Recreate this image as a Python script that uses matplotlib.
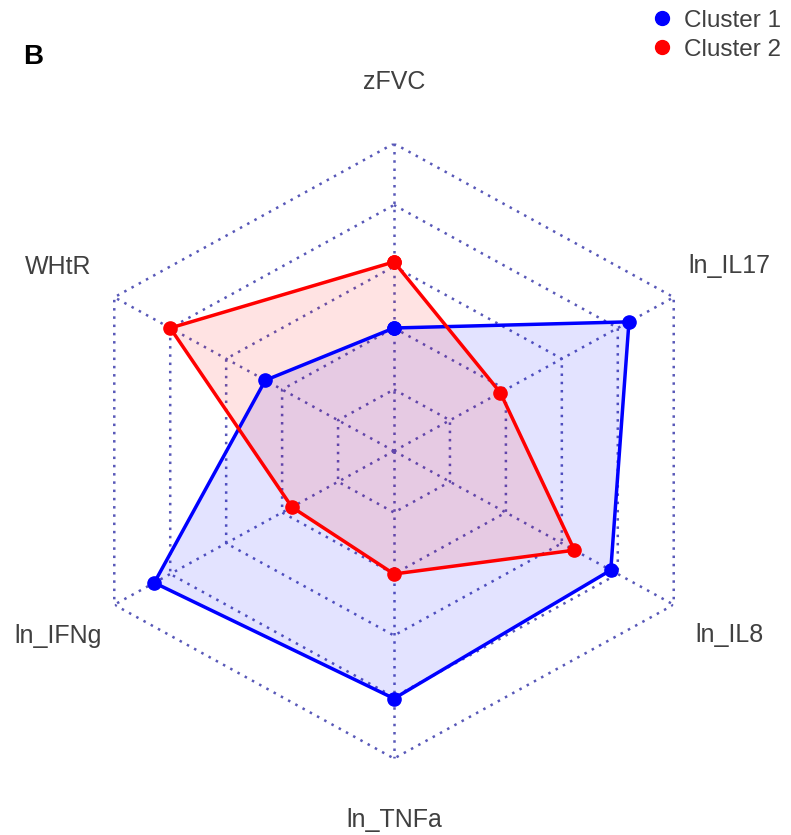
import numpy as np
import matplotlib
matplotlib.use("Agg")
import matplotlib.pyplot as plt
from matplotlib.lines import Line2D

plt.rcParams['font.family'] = ['Liberation Sans', 'DejaVu Sans']

categories = ["zFVC", "ln_IL17", "ln_IL8", "ln_TNFa", "ln_IFNg", "WHtR"]
cluster1 = [0.40, 0.84, 0.775, 0.805, 0.857, 0.46]
cluster2 = [0.615, 0.38, 0.645, 0.40, 0.365, 0.80]
series_names = ["Cluster 1", "Cluster 2"]
grid_levels = [0.2, 0.4, 0.6, 0.8, 1.0]

colors = ["#0000FF", "#FF0000"]
grid_color = "#5858B8"
text_color = "#404040"

W, H = 791, 835
fig = plt.figure(figsize=(W / 100, H / 100), dpi=100)
cx, cy = 394, 451
rx, ry = 323, 307.5
ax = fig.add_axes([(cx - rx) / W, (H - cy - ry) / H, 2 * rx / W, 2 * ry / H],
                  projection='polar')
ax.set_aspect('auto')
ax.set_theta_zero_location('N')
ax.set_theta_direction(-1)
ax.set_ylim(0, 1)
ax.grid(False)
ax.spines['polar'].set_visible(False)
ax.set_xticks([])
ax.set_yticks([])
ax.patch.set_alpha(0)

n = len(categories)
angles = np.arange(n) * 2 * np.pi / n
closed = np.append(angles, angles[0])

dash = (0, (1, 2.3))
for lv in grid_levels:
    ax.plot(closed, [lv] * (n + 1), color=grid_color, lw=1.8, linestyle=dash, zorder=1)
for a in angles:
    ax.plot([a, a], [0, 1], color=grid_color, lw=1.8, linestyle=dash, zorder=1)

for vals, c in zip([cluster1, cluster2], colors):
    v = np.append(vals, vals[0])
    ax.fill(closed, v, color=c, alpha=0.11, lw=0, zorder=2)
for vals, c in zip([cluster1, cluster2], colors):
    v = np.append(vals, vals[0])
    ax.plot(closed, v, color=c, lw=2.5, marker='o', ms=9.5, zorder=3, clip_on=False)

for a, lab in zip(angles, categories):
    ax.text(a, 1.2, lab, ha='center', va='center', fontsize=18, color=text_color,
            clip_on=False)

fig.text(33 / W, 1 - 57 / H, "B", fontsize=20, fontweight='bold', ha='center',
         va='center', color='black')

handles = [Line2D([], [], marker='o', linestyle='none', color=c, ms=10) for c in colors]
fig.legend(handles, series_names, loc='upper right', bbox_to_anchor=(1.0, 1.0),
           frameon=False, fontsize=17.5, handletextpad=0.3, labelspacing=0.28,
           borderaxespad=0.0, labelcolor=text_color, handlelength=1.2)

fig.savefig("out.png", dpi=100, facecolor='white')
